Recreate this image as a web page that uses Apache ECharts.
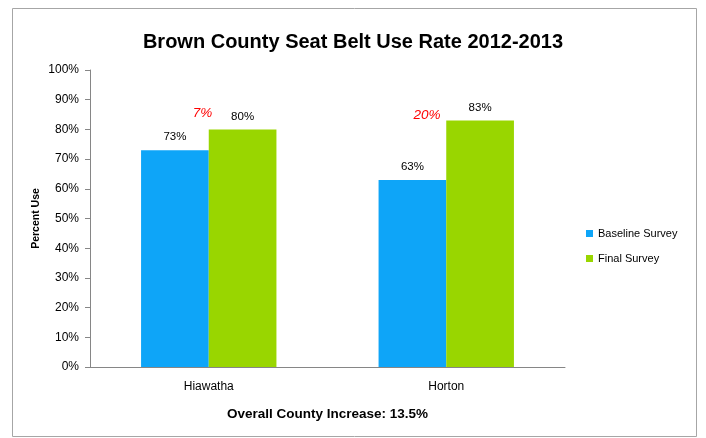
<!DOCTYPE html>
<html>
<head>
<meta charset="utf-8">
<script src="https://cdn.jsdelivr.net/npm/echarts@6/dist/echarts.min.js"></script>
<style>html,body{margin:0;padding:0;background:#fff;}#c{width:706px;height:438px;}</style>
</head>
<body>
<div id="c"></div>
<script>
const categories = ['Hiawatha', 'Horton'];
const baseline = [73, 63];
const finalSurvey = [80, 83];
const increases = ['7%', '20%'];
const yTicks = [0, 10, 20, 30, 40, 50, 60, 70, 80, 90, 100];

const chart = echarts.init(document.getElementById('c'));
const F = 'Liberation Sans, Arial, sans-serif';
const incOffsets = [[-40, -16], [-53, -5]];
chart.setOption({
  animation: false,
  backgroundColor: '#fff',
  title: {
    text: 'Brown County Seat Belt Use Rate 2012-2013',
    left: 'center', top: 27,
    textStyle: { fontFamily: F, fontSize: 20, fontWeight: 'bold', color: '#000' }
  },
  graphic: [{
    type: 'rect', shape: { x: 12.5, y: 8.5, width: 684, height: 428 },
    style: { fill: 'none', stroke: '#a6a6a6', lineWidth: 1 }, silent: true, z: -1
  }],
  legend: {
    orient: 'vertical', left: 586, top: 228, padding: 0,
    itemWidth: 7, itemHeight: 7, itemGap: 14, icon: 'rect',
    textStyle: { fontFamily: F, fontSize: 11, color: '#000' },
    data: ['Baseline Survey', 'Final Survey']
  },
  grid: { left: 90, right: 141, top: 70, bottom: 71, containLabel: false },
  xAxis: {
    type: 'category', data: categories,
    axisLine: { lineStyle: { color: '#868686', width: 1 } },
    axisTick: { show: false },
    axisLabel: { fontFamily: F, fontSize: 12, color: '#000', margin: 14 },
    name: 'Overall County Increase: 13.5%', nameLocation: 'middle', nameGap: 40,
    nameTextStyle: { fontFamily: F, fontSize: 13.5, fontWeight: 'bold', color: '#000' }
  },
  yAxis: {
    type: 'value', min: yTicks[0], max: yTicks[yTicks.length - 1], interval: 10,
    axisLine: { show: true, lineStyle: { color: '#868686', width: 1 } },
    axisTick: { show: true, length: 5, lineStyle: { color: '#868686' } },
    splitLine: { show: false },
    axisLabel: { fontFamily: F, fontSize: 12, color: '#000', margin: 11, formatter: '{value}%' },
    name: 'Percent Use', nameLocation: 'middle', nameGap: 48, nameRotate: 90,
    nameMoveOverlap: false,
    nameTextStyle: { fontFamily: F, fontSize: 10.5, fontWeight: 'bold', color: '#000' }
  },
  series: [
    {
      name: 'Baseline Survey', type: 'bar', data: baseline,
      barGap: '0%', barCategoryGap: '43%',
      itemStyle: { color: '#0ea5f8' },
      label: { show: true, position: 'top', distance: 7, formatter: '{c}%', fontFamily: F, fontSize: 11.5, color: '#000' }
    },
    {
      name: 'Final Survey', type: 'bar', data: finalSurvey,
      itemStyle: { color: '#99d600' },
      label: { show: true, position: 'top', distance: 7, formatter: '{c}%', fontFamily: F, fontSize: 11.5, color: '#000' },
      markPoint: {
        symbol: 'circle', symbolSize: 0,
        data: categories.map((c, i) => ({
          coord: [c, finalSurvey[i]],
          label: {
            show: true, position: 'inside', offset: incOffsets[i],
            formatter: increases[i], fontFamily: F, fontSize: 13.5, fontStyle: 'italic', color: '#ff0000'
          }
        }))
      }
    }
  ]
});
</script>
</body>
</html>
